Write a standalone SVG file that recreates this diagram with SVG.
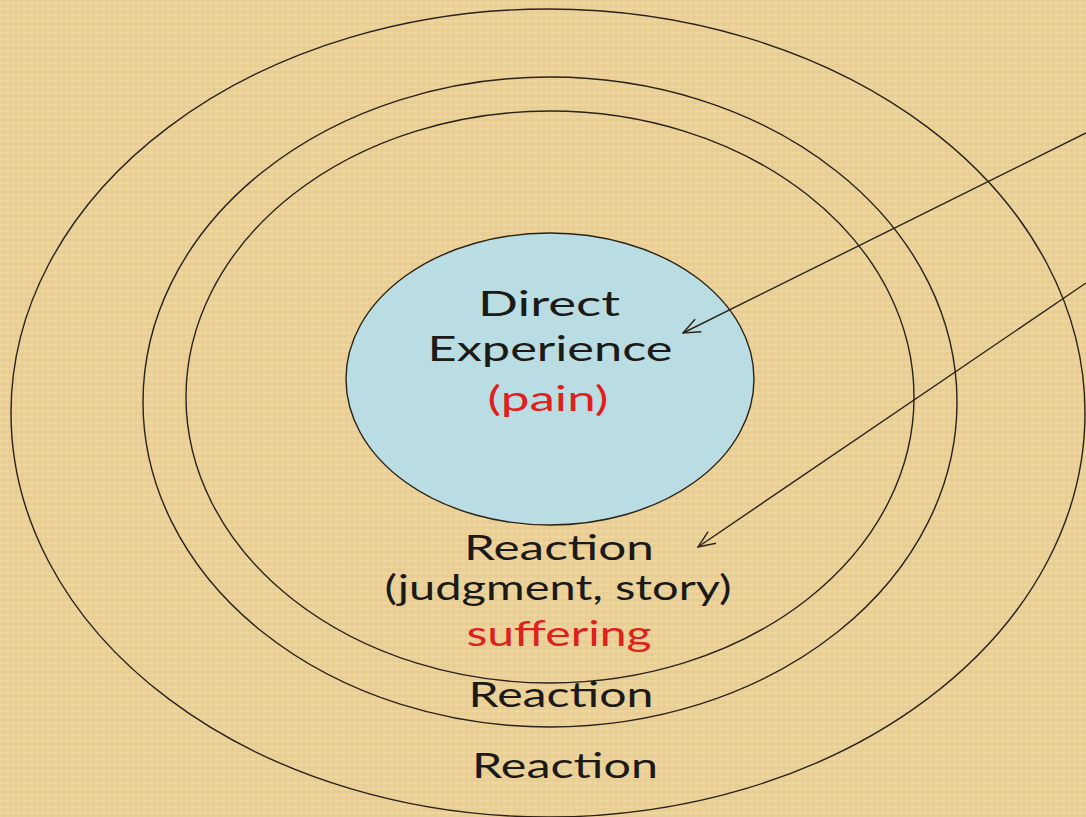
<svg xmlns="http://www.w3.org/2000/svg" width="1086" height="817" viewBox="0 0 1086 817">
<style>
.ring{fill:none;stroke:#2a2217;stroke-width:1.4}
.lbl{font-family:"Lato","Liberation Sans",sans-serif;font-size:34px;font-weight:400;fill:#1c1a16;text-anchor:middle}
.red{fill:#e0201c}
.conn{fill:none;stroke:#2a2217;stroke-width:1.4}
</style>
<defs>
<pattern id="tex" width="12" height="12" patternUnits="userSpaceOnUse">
<rect width="12" height="12" fill="#ead097"/>
<path d="M0 3H12M0 9H12" stroke="#f1dcaa" stroke-width="1"/>
<path d="M4 0V12M10 0V12" stroke="#dfc183" stroke-width="0.8" opacity="0.6"/>
</pattern>
<marker id="arr" viewBox="0 0 20 20" refX="19" refY="10" markerWidth="20" markerHeight="20" markerUnits="userSpaceOnUse" orient="auto">
<path d="M2 3L19 10L2 17" fill="none" stroke="#2a2217" stroke-width="1.4"/>
</marker>
</defs>
<rect width="1086" height="817" fill="url(#tex)"/>
<g id="ring-outer"><ellipse class="ring" cx="548" cy="413" rx="537" ry="404"/></g>
<g id="ring-middle"><ellipse class="ring" cx="550" cy="402" rx="407" ry="325"/></g>
<g id="ring-inner"><ellipse class="ring" cx="550" cy="397" rx="364" ry="286"/></g>
<g id="core">
<ellipse cx="550" cy="379" rx="204" ry="146" fill="#b9dde2" stroke="#2a2217" stroke-width="1.4"/>
<text class="lbl" x="549" y="316" textLength="142" lengthAdjust="spacingAndGlyphs">Direct</text>
<text class="lbl" x="550" y="361" textLength="245" lengthAdjust="spacingAndGlyphs">Experience</text>
<text class="lbl red" x="548" y="411" textLength="121" lengthAdjust="spacingAndGlyphs">(pain)</text>
</g>
<g id="reaction-1">
<text class="lbl" x="559" y="560" textLength="190" lengthAdjust="spacingAndGlyphs">Reaction</text>
<text class="lbl" x="558" y="600" textLength="347" lengthAdjust="spacingAndGlyphs">(judgment, story)</text>
<text class="lbl red" x="559" y="646" textLength="185" lengthAdjust="spacingAndGlyphs">suffering</text>
</g>
<g id="reaction-2"><text class="lbl" x="561" y="707" textLength="185" lengthAdjust="spacingAndGlyphs">Reaction</text></g>
<g id="reaction-3"><text class="lbl" x="565" y="778" textLength="186" lengthAdjust="spacingAndGlyphs">Reaction</text></g>
<g id="connectors">
<line class="conn" x1="1086" y1="133" x2="683" y2="333" marker-end="url(#arr)"/>
<line class="conn" x1="1086" y1="283" x2="698" y2="547" marker-end="url(#arr)"/>
</g>
</svg>
